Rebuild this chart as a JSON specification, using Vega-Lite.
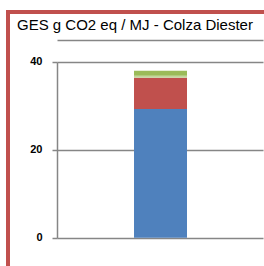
{
  "$schema": "https://vega.github.io/schema/vega-lite/v6.json",
  "width": 256,
  "height": 254,
  "autosize": {"type": "none"},
  "padding": {"left": 8, "top": 12, "right": 0, "bottom": 0},
  "background": "white",
  "title": {
    "text": "GES g CO2 eq / MJ - Colza Diester",
    "anchor": "start",
    "frame": "group",
    "offset": -33,
    "dx": 9,
    "baseline": "alphabetic",
    "font": "Liberation Sans",
    "fontSize": 15,
    "fontWeight": "normal",
    "color": "#000000"
  },
  "data": {
    "values": [
      {"filiere": "Colza Diester", "poste": "Culture", "ord": 1, "value": 29.25},
      {"filiere": "Colza Diester", "poste": "Transformation", "ord": 2, "value": 7.1},
      {"filiere": "Colza Diester", "poste": "Transport", "ord": 3, "value": 0.46},
      {"filiere": "Colza Diester", "poste": "Distribution", "ord": 4, "value": 1.13}
    ]
  },
  "layer": [
    {
      "mark": {"type": "bar", "width": {"band": 0.256}},
      "encoding": {
        "x": {
          "field": "filiere",
          "type": "nominal",
          "scale": {"type": "band", "paddingInner": 0, "paddingOuter": 0.1184, "align": 1},
          "axis": {
            "orient": "bottom",
            "offset": -28,
            "bandPosition": 0,
            "tickSize": -176,
            "tickColor": "#868686",
            "tickWidth": 1.5,
            "labels": false,
            "domain": false,
            "grid": false,
            "title": null
          }
        },
        "y": {
          "field": "value",
          "type": "quantitative",
          "stack": "zero",
          "scale": {"domain": [-6.43, 51.3], "nice": false, "zero": false},
          "axis": {
            "orient": "left",
            "offset": -49,
            "values": [0, 20, 40],
            "tickSize": 5,
            "tickColor": "#868686",
            "tickWidth": 1.5,
            "labelFont": "Liberation Sans",
            "labelFontSize": 11,
            "labelFontWeight": "bold",
            "labelColor": "#000000",
            "labelPadding": 10,
            "domain": false,
            "grid": false,
            "title": null
          }
        },
        "color": {
          "field": "poste",
          "type": "nominal",
          "scale": {
            "domain": ["Culture", "Transformation", "Transport", "Distribution"],
            "range": ["#4F81BD", "#C0504D", "#C3D69B", "#9BBB59"]
          },
          "legend": null
        },
        "order": {"field": "ord", "type": "quantitative"}
      }
    },
    {
      "mark": {"type": "rule", "opacity": 0},
      "encoding": {
        "y": {
          "datum": 0,
          "type": "quantitative",
          "axis": {
            "orient": "right",
            "offset": -1,
            "values": [0, 20, 40, 45],
            "tickSize": -206,
            "tickColor": "#868686",
            "tickWidth": 1.5,
            "labels": false,
            "domain": false,
            "grid": false,
            "title": null
          }
        }
      }
    }
  ],
  "resolve": {"axis": {"y": "independent"}},
  "config": {
    "view": {
      "fill": "white",
      "stroke": "#C0504D",
      "strokeWidth": 4,
      "strokeCap": "square",
      "strokeDash": [256, 510, 254, 10]
    }
  }
}
